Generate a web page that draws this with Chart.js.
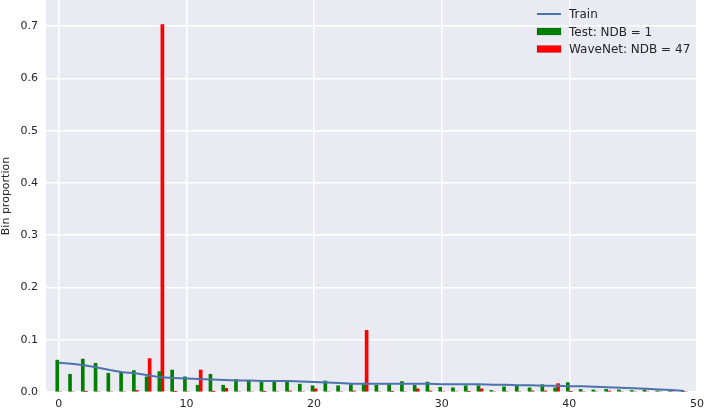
<!DOCTYPE html>
<html>
<head>
<meta charset="utf-8">
<script src="https://cdn.jsdelivr.net/npm/chart.js@4"></script>
<style>
  html, body { margin: 0; padding: 0; background: #fff; }
  #wrap { width: 706px; height: 410px; }
</style>
</head>
<body>
<div id="wrap"><canvas id="chart"></canvas></div>
<script>
// bin index on the x axis
const bins = [0, 1, 2, 3, 4, 5, 6, 7, 8, 9,
    10, 11, 12, 13, 14, 15, 16, 17, 18, 19,
    20, 21, 22, 23, 24, 25, 26, 27, 28, 29,
    30, 31, 32, 33, 34, 35, 36, 37, 38, 39,
    40, 41, 42, 43, 44, 45, 46, 47, 48, 49];

const trainProp = [0.056, 0.054, 0.051, 0.047, 0.042, 0.038, 0.036, 0.032, 0.028, 0.027,
    0.026, 0.025, 0.024, 0.023, 0.022, 0.022, 0.021, 0.021, 0.021, 0.020,
    0.019, 0.018, 0.017, 0.016, 0.016, 0.016, 0.016, 0.016, 0.016, 0.016,
    0.015, 0.015, 0.015, 0.015, 0.014, 0.014, 0.013, 0.013, 0.012, 0.012,
    0.011, 0.011, 0.010, 0.009, 0.008, 0.007, 0.006, 0.005, 0.004, 0.002];

const testProp = [0.061, 0.034, 0.063, 0.055, 0.036, 0.037, 0.041, 0.029, 0.039, 0.042,
    0.029, 0.013, 0.034, 0.013, 0.024, 0.021, 0.019, 0.019, 0.019, 0.015,
    0.012, 0.021, 0.012, 0.014, 0.014, 0.013, 0.015, 0.020, 0.013, 0.019,
    0.009, 0.008, 0.012, 0.012, 0.003, 0.010, 0.012, 0.008, 0.014, 0.008,
    0.018, 0.005, 0.004, 0.005, 0.004, 0.003, 0.004, 0.002, 0.002, 0.001];

const wavenetProp = [0, 0, 0.001, 0, 0, 0, 0.003, 0.064, 0.703, 0.001,
    0, 0.042, 0.001, 0.007, 0, 0, 0.001, 0, 0.002, 0,
    0.006, 0, 0, 0.002, 0.118, 0, 0.001, 0, 0.006, 0.002,
    0, 0, 0.001, 0.006, 0, 0, 0, 0.002, 0.002, 0.016,
    0.001, 0, 0, 0.002, 0, 0, 0, 0, 0, 0];

const xTicks = [0, 10, 20, 30, 40, 50];
const yTicks = [0, 0.1, 0.2, 0.3, 0.4, 0.5, 0.6, 0.7];

const textColor = '#262626';
const fontFamily = '"DejaVu Sans", sans-serif';

function pts(values) {
    return bins.map((b, i) => ({ x: b, y: values[i] }));
}

// seaborn style grey panel
const panelBg = {
    id: 'panelBg',
    beforeDraw(chart) {
        const a = chart.chartArea;
        const c = chart.ctx;
        c.save();
        c.fillStyle = '#EAEAF2';
        c.fillRect(a.left, a.top, a.right - a.left, a.bottom - a.top);
        c.restore();
    }
};

// legend drawn inside the plot, top right, no frame
const innerLegend = {
    id: 'innerLegend',
    afterDraw(chart) {
        const c = chart.ctx;
        const x0 = 537, w = 24, tx = 569;
        const rows = [14, 31.5, 49];
        c.save();
        c.font = '12px ' + fontFamily;
        c.textBaseline = 'middle';
        c.fillStyle = textColor;
        chart.data.datasets.forEach((ds, i) => {
            const y = rows[i];
            if (ds.type === 'line') {
                c.strokeStyle = ds.borderColor;
                c.lineWidth = 2;
                c.beginPath();
                c.moveTo(x0, y);
                c.lineTo(x0 + w, y);
                c.stroke();
            } else {
                c.fillStyle = ds.backgroundColor;
                c.fillRect(x0, y - 3.5, w, 7);
                c.strokeStyle = 'rgba(0,0,0,0.25)';
                c.lineWidth = 0.5;
                c.strokeRect(x0, y - 3.5, w, 7);
            }
            c.fillStyle = textColor;
            c.fillText(ds.label, tx, y + 1);
        });
        c.restore();
    }
};

const ctx = document.getElementById('chart').getContext('2d');
new Chart(ctx, {
    type: 'bar',
    data: {
        datasets: [
            {
                type: 'line',
                label: 'Train',
                data: pts(trainProp),
                borderColor: '#4C72B0',
                borderWidth: 2,
                pointRadius: 0,
                tension: 0
            },
            {
                type: 'bar',
                label: 'Test: NDB = 1',
                data: pts(testProp),
                backgroundColor: '#008000',
                barThickness: 3
            },
            {
                type: 'bar',
                label: 'WaveNet: NDB = 47',
                data: pts(wavenetProp),
                backgroundColor: '#FF0000',
                barThickness: 3
            }
        ]
    },
    options: {
        animation: false,
        responsive: true,
        maintainAspectRatio: false,
        layout: { padding: { left: 0, right: 9, top: 0, bottom: 0 } },
        plugins: {
            legend: { display: false },
            tooltip: { enabled: false }
        },
        scales: {
            x: {
                type: 'linear',
                min: -1,
                max: 50,
                offset: false,
                grid: { color: '#ffffff', lineWidth: 1.5, drawTicks: false, offset: false },
                border: { display: false },
                ticks: {
                    color: textColor,
                    font: { family: fontFamily, size: 11 },
                    padding: 6,
                    maxRotation: 0
                },
                afterBuildTicks(scale) {
                    scale.ticks = xTicks.map(v => ({ value: v }));
                },
                afterFit(scale) {
                    scale.height = 18;
                    scale.paddingLeft = 0;
                    scale.paddingRight = 0;
                }
            },
            y: {
                min: 0,
                max: 0.75,
                grid: { color: '#ffffff', lineWidth: 1.5, drawTicks: false },
                border: { display: false },
                title: {
                    display: true,
                    text: 'Bin proportion',
                    color: textColor,
                    font: { family: fontFamily, size: 11 },
                    padding: { top: 0, bottom: 0 }
                },
                ticks: {
                    color: textColor,
                    font: { family: fontFamily, size: 11 },
                    padding: 8,
                    callback: v => v.toFixed(1)
                },
                afterBuildTicks(scale) {
                    scale.ticks = yTicks.map(v => ({ value: v }));
                },
                afterFit(scale) {
                    scale.width = 46;
                    scale.paddingTop = 0;
                    scale.paddingBottom = 0;
                }
            }
        }
    },
    plugins: [panelBg, innerLegend]
});
</script>
</body>
</html>
